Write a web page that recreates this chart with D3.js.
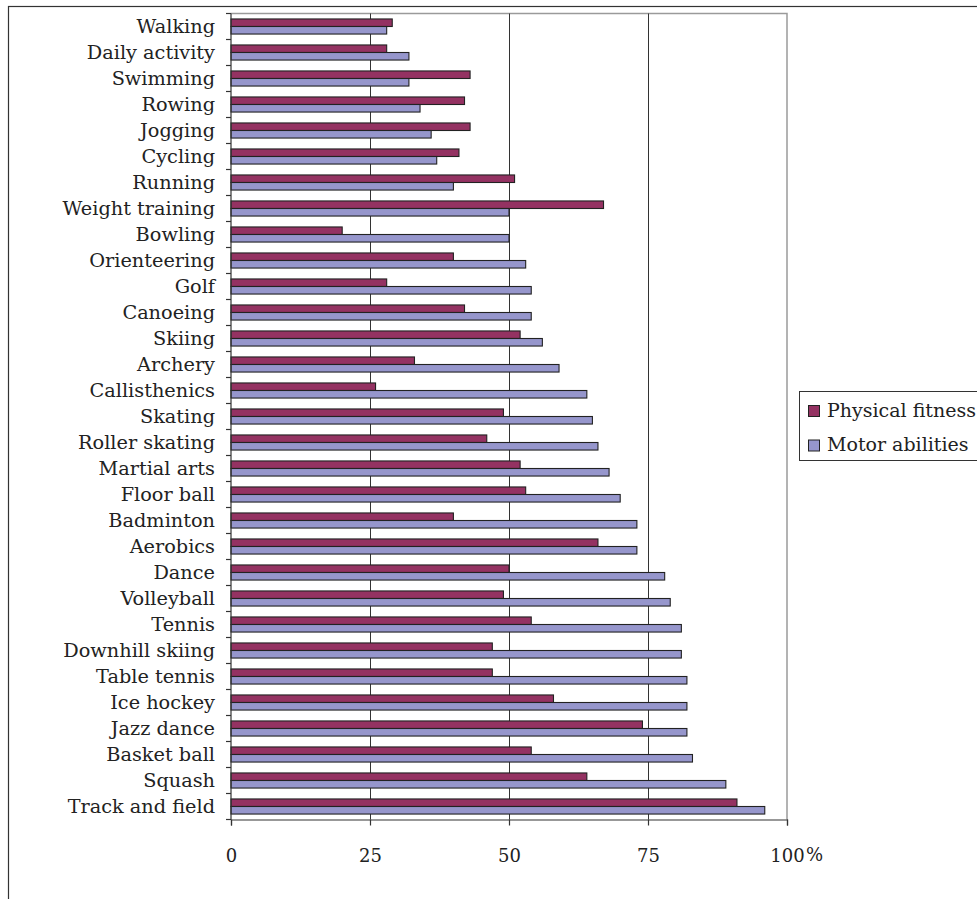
<!DOCTYPE html>
<html>
<head>
<meta charset="utf-8">
<script src="https://cdn.jsdelivr.net/npm/d3@7"></script>
<style>
  html, body { margin: 0; padding: 0; background: #fff; overflow: hidden; }
  svg { display: block; }
  text { font-family: "DejaVu Serif", serif; fill: #222; }
</style>
</head>
<body>
<svg id="chart" width="977" height="899"></svg>
<script>
// Activities, listed top to bottom
const categories = ["Walking", "Daily activity", "Swimming", "Rowing", "Jogging", "Cycling",
  "Running", "Weight training", "Bowling", "Orienteering", "Golf", "Canoeing", "Skiing",
  "Archery", "Callisthenics", "Skating", "Roller skating", "Martial arts", "Floor ball",
  "Badminton", "Aerobics", "Dance", "Volleyball", "Tennis", "Downhill skiing", "Table tennis",
  "Ice hockey", "Jazz dance", "Basket ball", "Squash", "Track and field"];

// Share (%) per activity
const physicalFitness = [29, 28, 43, 42, 43, 41, 51, 67, 20, 40, 28, 42, 52, 33, 26, 49, 46,
  52, 53, 40, 66, 50, 49, 54, 47, 47, 58, 74, 54, 64, 91];
const motorAbilities = [28, 32, 32, 34, 36, 37, 40, 50, 50, 53, 54, 54, 56, 59, 64, 65, 66,
  68, 70, 73, 73, 78, 79, 81, 81, 82, 82, 82, 83, 89, 96];

const seriesNames = ["Physical fitness", "Motor abilities"];
const seriesColors = ["#943262", "#9696cc"];
const xTicks = [0, 25, 50, 75, 100];

const svg = d3.select("#chart");

// Outer chart border (runs past the right and bottom edges)
svg.append("rect")
  .attr("x", 8.5).attr("y", 6.5)
  .attr("width", 1000).attr("height", 1000)
  .attr("fill", "none").attr("stroke", "#333").attr("stroke-width", 1.2);

const plot = { left: 231, top: 13.5, right: 787, bottom: 819.5 };

const x = d3.scaleLinear().domain([0, 100]).range([plot.left, plot.right]);
const y = d3.scaleBand().domain(categories).range([plot.top, plot.bottom])
  .paddingInner(0.42).paddingOuter(0.21);
const ySeries = d3.scaleBand().domain(seriesNames).range([0, y.bandwidth()]);
const color = d3.scaleOrdinal().domain(seriesNames).range(seriesColors);

// Plot frame (top and right edges)
svg.append("path")
  .attr("d", `M${plot.left},${plot.top}H${plot.right}V${plot.bottom}`)
  .attr("fill", "none").attr("stroke", "#9a9a9a").attr("stroke-width", 1.5);

// Vertical gridlines
svg.append("g").selectAll("line")
  .data(xTicks.filter(t => t > 0 && t < 100))
  .join("line")
  .attr("x1", d => Math.round(x(d)) + 0.5).attr("x2", d => Math.round(x(d)) + 0.5)
  .attr("y1", plot.top).attr("y2", plot.bottom)
  .attr("stroke", "#333").attr("stroke-width", 1);

// Bars
const rows = categories.map((c, i) => ({
  category: c,
  values: [
    { series: seriesNames[0], value: physicalFitness[i] },
    { series: seriesNames[1], value: motorAbilities[i] }
  ]
}));

svg.append("g").selectAll("g")
  .data(rows)
  .join("g")
  .attr("transform", d => `translate(0,${y(d.category)})`)
  .selectAll("rect")
  .data(d => d.values)
  .join("rect")
  .attr("x", x(0))
  .attr("y", d => ySeries(d.series))
  .attr("width", d => x(d.value) - x(0))
  .attr("height", ySeries.bandwidth())
  .attr("fill", d => color(d.series))
  .attr("stroke", "#222").attr("stroke-width", 1.1);

// Left axis: line, ticks on category boundaries, labels
const leftAxis = svg.append("g");
leftAxis.append("line")
  .attr("x1", plot.left).attr("x2", plot.left)
  .attr("y1", plot.top).attr("y2", plot.bottom)
  .attr("stroke", "#333").attr("stroke-width", 1.2);
const boundaries = d3.range(categories.length + 1)
  .map(i => plot.top + i * y.step());
leftAxis.selectAll("line.tick")
  .data(boundaries)
  .join("line").attr("class", "tick")
  .attr("x1", plot.left - 5).attr("x2", plot.left)
  .attr("y1", d => d).attr("y2", d => d)
  .attr("stroke", "#333").attr("stroke-width", 1.2);
leftAxis.selectAll("text")
  .data(categories)
  .join("text")
  .attr("x", 215)
  .attr("y", d => y(d) + y.bandwidth() / 2)
  .attr("dy", "0.36em")
  .attr("text-anchor", "end")
  .style("font-size", "19.3px")
  .text(d => d);

// Bottom axis
const bottomAxis = svg.append("g")
  .attr("transform", `translate(0,${plot.bottom})`)
  .call(d3.axisBottom(x).tickValues(xTicks).tickSize(6).tickPadding(24).tickFormat(d3.format("d")));
bottomAxis.select(".domain").attr("stroke", "#333").attr("stroke-width", 1.2);
bottomAxis.selectAll(".tick line").attr("stroke", "#333").attr("stroke-width", 1.2);
bottomAxis.selectAll(".tick text")
  .style("font-family", "'DejaVu Serif', serif")
  .style("font-size", "18px")
  .attr("fill", "#222");
bottomAxis.append("text")
  .attr("x", x(100) + 19)
  .attr("y", 41)
  .attr("text-anchor", "start")
  .style("font-size", "18px")
  .text("%");

// Legend
const legend = svg.append("g");
legend.append("rect")
  .attr("x", 799.5).attr("y", 391.5)
  .attr("width", 200).attr("height", 69)
  .attr("fill", "#fff").attr("stroke", "#333").attr("stroke-width", 1);
const legendItems = legend.selectAll("g.item")
  .data(seriesNames)
  .join("g").attr("class", "item")
  .attr("transform", (d, i) => `translate(808,${405 + i * 34.5})`);
legendItems.append("rect")
  .attr("x", 0.5).attr("y", 0.5)
  .attr("width", 11).attr("height", 11)
  .attr("fill", d => color(d))
  .attr("stroke", "#222").attr("stroke-width", 1);
legendItems.append("text")
  .attr("x", 19).attr("y", 11.5)
  .style("font-size", "19px")
  .text(d => d);
</script>
</body>
</html>
